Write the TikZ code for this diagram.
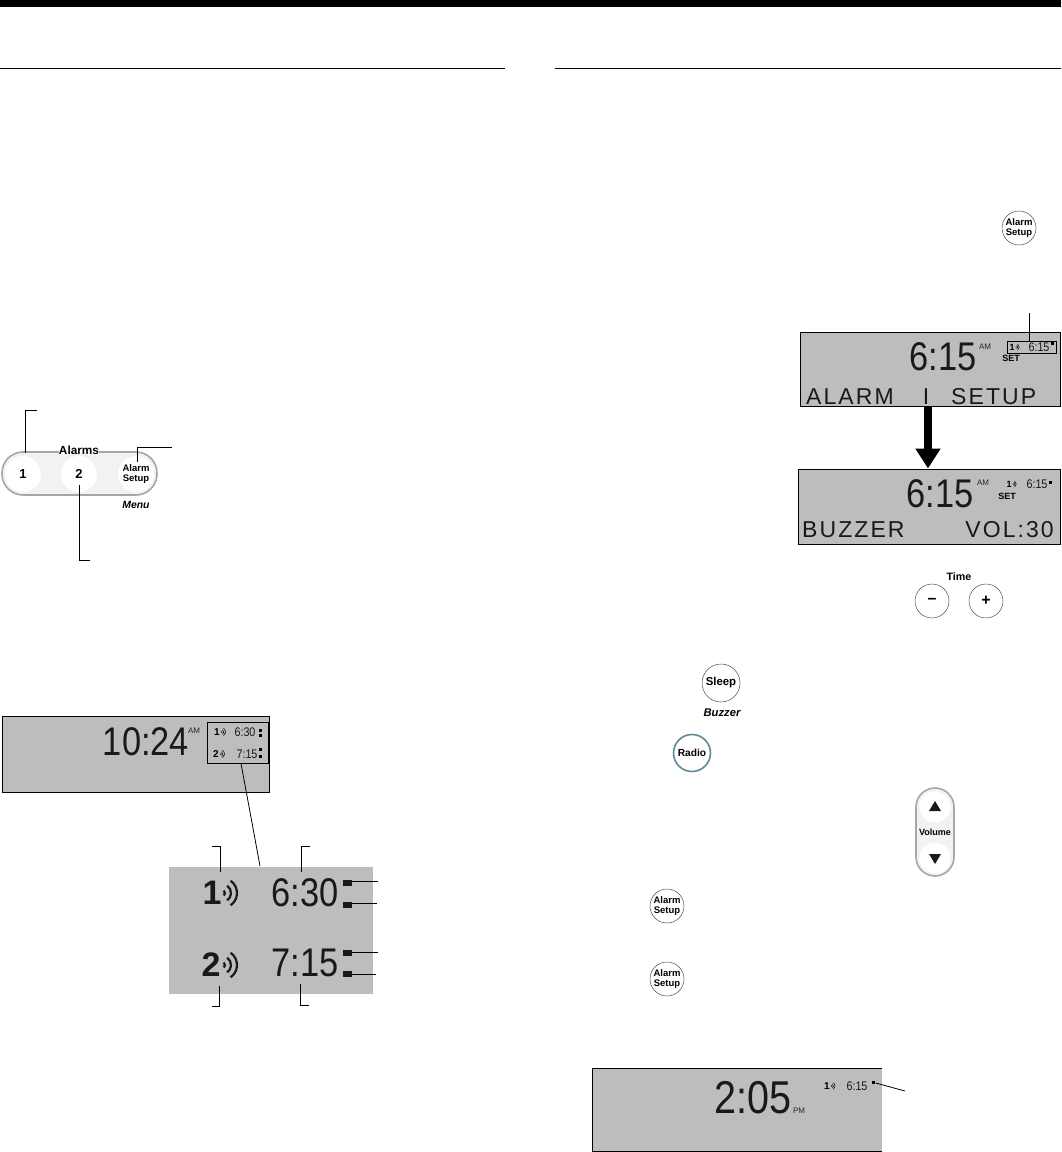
\documentclass[tikz,border=0pt]{standalone}
\usepackage{fontspec}
\setmainfont{Liberation Sans}
\newfontfamily\lcdfont[FakeStretch=0.86]{Liberation Sans}
\newfontfamily\lcdwide[LetterSpace=9]{Liberation Sans}
\usetikzlibrary{arrows.meta}
\definecolor{lcdgray}{HTML}{BDBDBD}
\definecolor{pillgray}{HTML}{F2F2F2}
\definecolor{radioteal}{HTML}{5F8A94}
\begin{document}
\begin{tikzpicture}[
  x=1pt,y=-1pt,
  lcd/.style={fill=lcdgray,draw=black,line width=1pt,inner sep=0pt},
  button/.style={circle,draw=black!70,line width=.5pt,fill=white,inner sep=0pt,minimum size=34pt,align=center,font=\bfseries\fontsize{9.5}{10.5}\selectfont},
  inset/.style={circle,fill=white,inner sep=0pt,minimum size=36pt,align=center},
  pill/.style={rounded corners=21pt,draw=black!35,line width=1.6pt,fill=pillgray},
  caption/.style={font=\bfseries\fontsize{10.7}{11}\selectfont,inner sep=0pt},
  hint/.style={font=\bfseries\itshape\fontsize{10.4}{11}\selectfont,inner sep=0pt},
  bigdigits/.style={font=\lcdfont\fontsize{40}{40}\selectfont,text=black!90,inner sep=0pt},
  smalldigits/.style={font=\lcdfont\fontsize{12.5}{12.5}\selectfont,text=black!90,inner sep=0pt},
  tiny/.style={font=\fontsize{8}{8}\selectfont,text=black!85,inner sep=0pt},
  setmark/.style={font=\bfseries\fontsize{9}{9}\selectfont,inner sep=0pt},
  alarmnum/.style={font=\bfseries\fontsize{34}{34}\selectfont,text=black!90,inner sep=0pt},
  smallnum/.style={font=\bfseries\fontsize{10}{10}\selectfont,inner sep=0pt},
  segtext/.style={font=\lcdwide\fontsize{23}{23}\selectfont,text=black!90,inner sep=0pt},
  blip/.style={fill=black!90,inner sep=0pt,minimum width=9pt,minimum height=6.5pt},
  dot/.style={fill=black,inner sep=0pt,minimum size=3pt},
  leader/.style={draw=black,line width=.8pt},
  waves/.pic={
    \foreach \r in {3,9,15}
      \draw[black!90] ([shift={(-55:\r)}]0,0) arc (-55:55:\r);
  }
]
  \useasboundingbox (0,0) rectangle (1061,1152);
  \fill (0,0) rectangle (1061,7);
  \draw[line width=1pt] (0,68) -- (505,68);
  \draw[line width=1pt] (555,68) -- (1061,68);

  % alarm buttons
  \draw[pill] (2,452) rectangle (157,495);
  \node[fill=white,inner xsep=4pt,inner ysep=1pt,caption,font=\bfseries\fontsize{11.8}{12}\selectfont] (alarmstitle) at (79,450) {Alarms};
  \node[inset,font=\bfseries\fontsize{13}{13}\selectfont] (one) at (23,474) {1};
  \node[inset,font=\bfseries\fontsize{13}{13}\selectfont] (two) at (79,474) {2};
  \node[inset,font=\bfseries\fontsize{9.5}{10.5}\selectfont] (setup) at (136,474) {Alarm\\Setup};
  \node[hint] (menu) at (136,505) {Menu};
  \coordinate (oneend) at (37,410);
  \coordinate (twoend) at (90,560);
  \coordinate (setupend) at (172,447);
  \draw[leader] ([shift={(2,-3)}]one.north) |- (oneend);
  \draw[leader] (two.center) ++(0,11) |- (twoend);
  \draw[leader] ([shift={(1,6)}]setup.north) |- (setupend);

  % main display
  \node[lcd,minimum width=267pt,minimum height=76pt] (mainlcd) at (135.5,754) {};
  \node[bigdigits] (maintime) at (146,742) {10:24};
  \node[tiny] (mainam) at (194,731) {AM};
  \node[draw=black,line width=.8pt,minimum width=61pt,minimum height=41pt,inner sep=0pt] (mainbox) at (237.5,742.5) {};
  \node[smallnum] (mainone) at (217,732) {1};
  \pic[scale=.3,line width=.7pt] at (221,732) {waves};
  \node[smalldigits] (mainfirst) at (245,732) {6:30};
  \node[smallnum] (maintwo) at (216,754) {2};
  \pic[scale=.3,line width=.7pt] at (220,754) {waves};
  \node[smalldigits] (mainsecond) at (247,754) {7:15};
  \foreach \y in {730,735,749,756}
    \node[dot] at (260,\y) {};

  % enlarged part
  \node[fill=lcdgray,minimum width=204pt,minimum height=127pt,inner sep=0pt] (zoomlcd) at (271,930.5) {};
  \draw[leader] (mainbox.south) ++(3.5,0) -- (260,866);
  \node[alarmnum] (bigone) at (212,893) {1};
  \pic[line width=2.2pt] at (222,893) {waves};
  \node[bigdigits] (bigfirst) at (305,893) {6:30};
  \node[alarmnum] (bigtwo) at (211,965) {2};
  \pic[line width=2.2pt] at (222,965) {waves};
  \node[bigdigits] (bigsecond) at (305,963) {7:15};
  \node[blip] (blipa) at (347,883) {};
  \node[blip] (blipb) at (347,905) {};
  \node[blip] (blipc) at (347,953) {};
  \node[blip] (blipd) at (347,974) {};
  \coordinate (blipaend) at (378,881);
  \coordinate (blipbend) at (377,903);
  \coordinate (blipcend) at (378,952);
  \coordinate (blipdend) at (376,974);
  \draw[leader] (blipa.east) ++(0,-2) -- (blipaend);
  \draw[leader] (blipb.east) ++(0,-2) -- (blipbend);
  \draw[leader] (blipc.east) ++(0,-1) -- (blipcend);
  \draw[leader] (blipd.east) -- (blipdend);
  \coordinate (oneleft) at (212,846);
  \coordinate (firstright) at (310,846);
  \coordinate (twoleft) at (212,1006);
  \coordinate (secondright) at (309,1005);
  \draw[leader] (220,872) |- (oneleft);
  \draw[leader] (301,872) |- (firstright);
  \draw[leader] (219,986) |- (twoleft);
  \draw[leader] (300,984) |- (secondright);

  % setup displays
  \node[button] (setupa) at (1019,228) {Alarm\\Setup};
  \node[lcd,minimum width=260pt,minimum height=74pt] (setlcd) at (930,369) {};
  \node[bigdigits] (settime) at (943,357) {6:15};
  \node[tiny] (setam) at (985,347) {AM};
  \node[draw=black,line width=.8pt,minimum width=49pt,minimum height=12pt,inner sep=0pt] (setbox) at (1031.5,347) {};
  \node[smallnum,font=\bfseries\fontsize{9}{9}\selectfont] (setone) at (1012,347) {1};
  \pic[scale=.25,line width=.6pt] at (1015.5,347) {waves};
  \node[smalldigits] (setalarm) at (1039,347) {6:15};
  \node[dot] (setdot) at (1052,343) {};
  \node[setmark] (setword) at (1011,358) {SET};
  \node[segtext,anchor=west] (setalarmword) at (806,397) {ALARM};
  \node[segtext] (setnum) at (926,397) {I};
  \node[segtext,anchor=west] (setsetup) at (951,397) {SETUP};
  \coordinate (settop) at (1029,313);
  \draw[leader] (settop) -- (setbox.north -| settop);

  \node[lcd,minimum width=262pt,minimum height=75pt] (buzzlcd) at (929,506.5) {};
  \draw[line width=8pt,-{Triangle[width=24pt,length=20pt]}] (setlcd.south -| 928,0) -- (buzzlcd.north -| 928,0);
  \node[bigdigits] (buzztime) at (940,494) {6:15};
  \node[tiny] (buzzam) at (983,483) {AM};
  \node[smallnum,font=\bfseries\fontsize{9}{9}\selectfont] (buzzone) at (1009,484) {1};
  \pic[scale=.25,line width=.6pt] at (1012.5,484) {waves};
  \node[smalldigits] (buzzalarm) at (1037,484) {6:15};
  \node[dot] (buzzdot) at (1050,482) {};
  \node[setmark] (buzzset) at (1007,496) {SET};
  \node[segtext,anchor=west] (buzzword) at (802,530) {BUZZER};
  \node[segtext,anchor=east] (buzzvol) at (1054,530) {VOL:30};

  % other buttons
  \node[caption] (timelabel) at (959,577) {Time};
  \node[button,font=\bfseries\fontsize{16}{16}\selectfont] (minus) at (932,601) {–};
  \node[button,font=\bfseries\fontsize{16}{16}\selectfont] (plus) at (986,601) {+};
  \node[button,minimum size=38pt,font=\bfseries\fontsize{11.4}{12}\selectfont] (sleep) at (721,683) {Sleep};
  \node[hint,font=\bfseries\itshape\fontsize{11.2}{12}\selectfont] (buzzer) at (722,713) {Buzzer};
  \node[button,minimum size=37pt,draw=radioteal,line width=1.6pt,font=\bfseries\fontsize{10.2}{11}\selectfont] (radio) at (692,753) {Radio};
  \draw[pill,rounded corners=19pt] (916,788) rectangle (954,876);
  \node[inset,minimum size=31pt] (volup) at (935,807) {};
  \node[inset,minimum size=31pt] (voldown) at (935,858) {};
  \fill[black!90] (929,811) -- (941,811) -- (935,801) -- cycle;
  \fill[black!90] (929,854) -- (941,854) -- (935,864) -- cycle;
  \node[caption,font=\bfseries\fontsize{9}{9}\selectfont] (volume) at (935,832) {Volume};
  \node[button] (setupb) at (667,906) {Alarm\\Setup};
  \node[button] (setupc) at (667,979) {Alarm\\Setup};

  % last display
  \node[fill=lcdgray,minimum width=289pt,minimum height=82pt,inner sep=0pt] (pmlcd) at (737.5,1110) {};
  \draw[line width=1pt] (pmlcd.north east) -- (pmlcd.north west) -- (pmlcd.south west) -- (pmlcd.south east);
  \node[bigdigits,font=\lcdfont\fontsize{46}{46}\selectfont] (pmtime) at (753,1098) {2:05};
  \node[tiny] (pmmark) at (799,1111) {PM};
  \node[smallnum] (pmone) at (827,1086) {1};
  \pic[scale=.27,line width=.6pt] at (831,1086) {waves};
  \node[smalldigits] (pmalarm) at (857,1086) {6:15};
  \node[dot] (pmdot) at (873,1082) {};
  \coordinate (pmend) at (905,1091);
  \draw[leader] (pmdot.east) ++(1,1) -- (pmend);
\end{tikzpicture}
\end{document}
